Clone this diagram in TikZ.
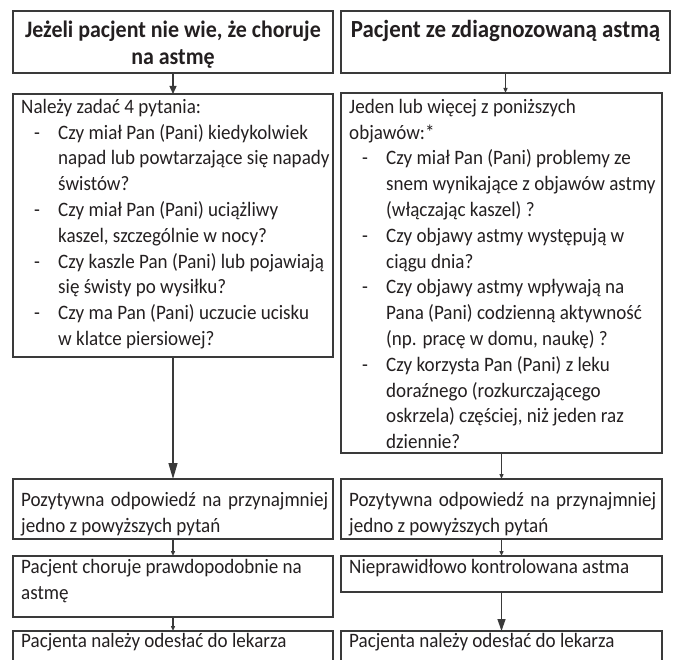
\documentclass[tikz,border=0pt]{standalone}
\usepackage{fontspec}
\setmainfont{Carlito}[FakeStretch=0.93]
\usetikzlibrary{arrows.meta}
\definecolor{boxc}{HTML}{3A3A3A}
\definecolor{txtc}{HTML}{231F20}
\newcommand\bl{\makebox[37pt][l]{\hspace*{13pt}-}}
\newcommand\il{\hspace*{37pt}}
\newcommand\jl[1]{\makebox[307pt][s]{#1}}
\begin{document}
\begin{tikzpicture}[x=1pt,y=-1pt,
  box/.style={draw=boxc, line width=1.2pt, inner sep=0pt, outer sep=0pt, anchor=north west},
  txt/.style={inner sep=0pt, anchor=north west, align=left, font=\fontsize{20.5}{25.8}\selectfont, text=txtc},
  ttl/.style={inner sep=0pt, anchor=north, align=center, font=\fontsize{23.6}{27}\selectfont\bfseries, text=txtc},
  arr/.style={draw=boxc, line width=1.3pt},
  hs/.style={arr, -{Triangle[length=8pt,width=7pt]}},
  ht/.style={arr, -{Triangle[length=5pt,width=4pt]}},
  hb/.style={arr, -{Triangle[length=16pt,width=9pt]}},
  hm/.style={arr, -{Triangle[length=12pt,width=8pt]}}
]
\useasboundingbox (0,0) rectangle (677,660);
\clip (0,0) rectangle (677,660);
% boxes
\node[box, minimum width=320pt, minimum height=62pt] (L1) at (13,11) {};
\node[box, minimum width=329pt, minimum height=62pt] (R1) at (341,11) {};
\node[box, minimum width=320pt, minimum height=263pt] (L2) at (13,94) {};
\node[box, minimum width=321pt, minimum height=360pt] (R2) at (341,93) {};
\node[box, minimum width=320pt, minimum height=60pt] (L3) at (13,479) {};
\node[box, minimum width=321pt, minimum height=60pt] (R3) at (341,479) {};
\node[box, minimum width=320pt, minimum height=61pt] (L4) at (13,556) {};
\node[box, minimum width=321pt, minimum height=36pt] (R4) at (341,556) {};
\node[box, minimum width=320pt, minimum height=60pt] (L5) at (13,631) {};
\node[box, minimum width=321pt, minimum height=60pt] (R5) at (341,631) {};
% titles
\node[ttl] (tL1) at (173,18.1) {\strut Jeżeli pacjent nie wie, że choruje\\na astmę};
\node[ttl, font=\fontsize{24.6}{27}\selectfont\bfseries] (tR1) at (505.5,18.1) {\strut Pacjent ze zdiagnozowaną astmą};
% texts
\node[txt] (tL2) at (21,95) {\strut Należy zadać 4 pytania:\\
\bl Czy miał Pan (Pani) kiedykolwiek\\
\il napad lub powtarzające się napady\\
\il świstów?\\
\bl Czy miał Pan (Pani) uciążliwy\\
\il kaszel, szczególnie w nocy?\\
\bl Czy kaszle Pan (Pani) lub pojawiają\\
\il się świsty po wysiłku?\\
\bl Czy ma Pan (Pani) uczucie ucisku\\
\il w klatce piersiowej?};
\node[txt] (tR2) at (349,95) {\strut Jeden lub więcej z poniższych\\
objawów:*\\
\bl Czy miał Pan (Pani) problemy ze\\
\il snem wynikające z objawów astmy\\
\il (włączając kaszel) ?\\
\bl Czy objawy astmy występują w\\
\il ciągu dnia?\\
\bl Czy objawy astmy wpływają na\\
\il Pana (Pani) codzienną aktywność\\
\il (np. pracę w domu, naukę) ?\\
\bl Czy korzysta Pan (Pani) z leku\\
\il doraźnego (rozkurczającego\\
\il oskrzela) częściej, niż jeden raz\\
\il dziennie?};
\node[txt] (tL3) at (21,488) {\strut\jl{Pozytywna odpowiedź na przynajmniej}\\jedno z powyższych pytań};
\node[txt] (tR3) at (349,488) {\strut\jl{Pozytywna odpowiedź na przynajmniej}\\jedno z powyższych pytań};
\node[txt] (tL4) at (21,555) {\strut Pacjent choruje prawdopodobnie na\\astmę};
\node[txt] (tR4) at (349,555) {\strut Nieprawidłowo kontrolowana astma};
\node[txt] (tL5) at (21,629) {\strut Pacjenta należy odesłać do lekarza};
\node[txt] (tR5) at (349,629) {\strut Pacjenta należy odesłać do lekarza};
% arrows
\draw[hs] (L1.south) -- (L2.north);
\draw[ht] (R1.south) -- (R1.south |- R2.north);
\draw[hb] (L2.south) -- (L3.north);
\draw[ht] (R2.south) -- (R3.north);
\draw[ht] (L3.south) -- (L4.north);
\draw[ht] (R3.south) -- (R4.north);
\draw[ht] (L4.south) -- (L5.north);
\draw[hm] (R4.south) -- (R5.north);
\end{tikzpicture}
\end{document}
